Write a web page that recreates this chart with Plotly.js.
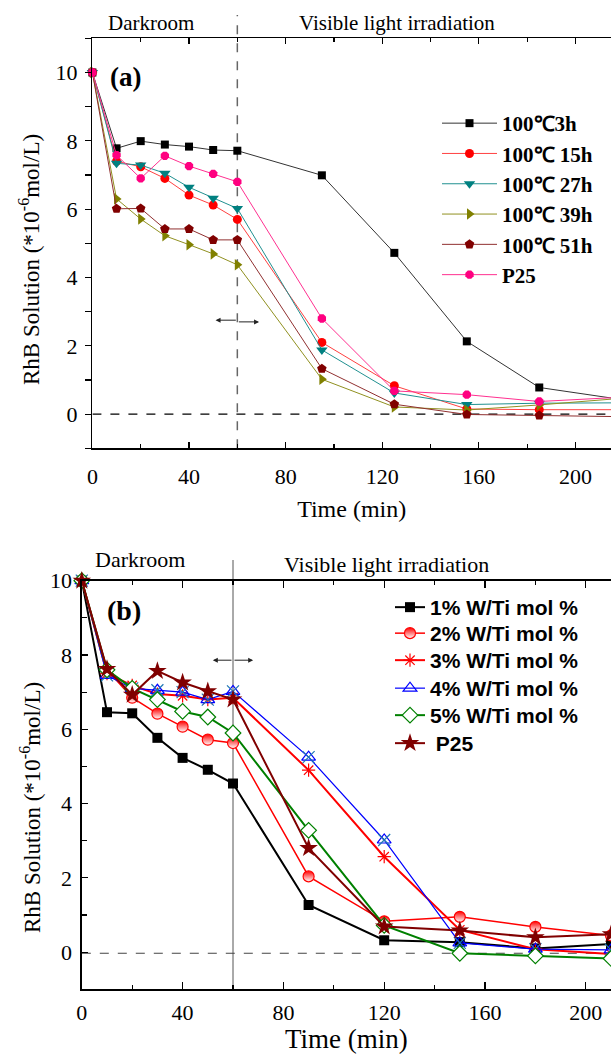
<!DOCTYPE html>
<html>
<head>
<meta charset="utf-8">
<script src="https://cdn.plot.ly/plotly-3.0.1.min.js"></script>
<style>html,body{margin:0;padding:0;background:#fff;}#chart{width:611px;height:1054px;}</style>
</head>
<body>
<div id="chart"></div>
<script>
// ---------- Panel (a) data ----------
const timeA = [0, 10, 20, 30, 40, 50, 60, 95, 125, 155, 185, 215];
const a3h   = [10, 7.78, 7.99, 7.89, 7.83, 7.73, 7.71, 6.99, 4.72, 2.13, 0.78, 0.47];
const a15h  = [10, 7.40, 7.24, 6.90, 6.41, 6.12, 5.70, 2.10, 0.83, 0.15, 0.13, 0.13];
const a27h  = [10, 7.34, 7.29, 7.05, 6.64, 6.32, 6.02, 1.88, 0.62, 0.28, 0.32, 0.33];
const a39h  = [10, 6.30, 5.71, 5.22, 4.96, 4.69, 4.37, 1.02, 0.21, 0.12, 0.27, 0.44];
const a51h  = [10, 6.01, 6.02, 5.42, 5.42, 5.10, 5.10, 1.33, 0.29, -0.01, -0.04, -0.07];
const aP25  = [10, 7.58, 6.90, 7.56, 7.26, 7.03, 6.80, 2.80, 0.68, 0.57, 0.37, 0.48];
const namesA = ["100\u21033h", "100\u2103 15h", "100\u2103 27h", "100\u2103 39h", "100\u2103 51h", "P25"];

// ---------- Panel (b) data ----------
const timeB = [0, 10, 20, 30, 40, 50, 60, 90, 120, 150, 180, 210];
const b1   = [10, 6.46, 6.43, 5.77, 5.23, 4.91, 4.54, 1.27, 0.32, 0.27, 0.10, 0.22];
const b2   = [10, 7.60, 6.85, 6.42, 6.07, 5.72, 5.63, 2.04, 0.83, 0.95, 0.68, 0.45];
const b3   = [10, 7.50, 7.18, 6.95, 6.90, 6.80, 6.85, 4.90, 2.57, 0.60, 0.08, -0.05];
const b4   = [10, 7.45, 7.10, 7.05, 7.00, 6.80, 7.02, 5.25, 3.02, 0.25, 0.08, 0.06];
const b5   = [10, 7.60, 7.10, 6.80, 6.48, 6.33, 5.90, 3.28, 0.72, -0.03, -0.10, -0.17];
const bP25 = [10, 7.62, 6.93, 7.57, 7.26, 7.02, 6.80, 2.80, 0.69, 0.58, 0.40, 0.48];
const namesB = ["1% W/Ti mol %", "2% W/Ti mol %", "3% W/Ti mol %", "4% W/Ti mol %", "5% W/Ti mol %", "\u00a0P25"];

const xTicks = [0, 40, 80, 120, 160, 200];
const H = 1054, W = 611;
const py = p => 1 - p / H;   // pixel row -> paper y
const px = p => p / W;       // pixel col -> paper x

function trA(y, name, color, lineColor, symbol, size) {
  return {x: timeA, y: y, name: name, type: 'scatter', mode: 'lines+markers',
    xaxis: 'x', yaxis: 'y', legend: 'legend', cliponaxis: false,
    line: {color: lineColor, width: 1},
    marker: {symbol: symbol, size: size, color: color, line: {width: 0}}};
}
function trB(y, name, lineColor, lineW, marker, leg) {
  return {x: timeB, y: y, name: name, type: 'scatter', mode: 'lines+markers',
    xaxis: 'x2', yaxis: 'y2', legend: leg, cliponaxis: false,
    line: {color: lineColor, width: lineW}, marker: marker};
}

const traces = [
  trA(a3h,  namesA[0], '#000000', '#333333', 'square', 8),
  trA(a15h, namesA[1], '#ff0000', '#ff4040', 'circle', 9),
  trA(a27h, namesA[2], '#008080', '#209090', 'triangle-down', 10),
  trA(a39h, namesA[3], '#808000', '#909020', 'triangle-right', 10),
  trA(a51h, namesA[4], '#800000', '#903030', 'pentagon', 10),
  trA(aP25, namesA[5], '#ff0080', '#ff3090', 'octagon', 9),

  trB(b1, namesB[0], '#000000', 2, {symbol: 'square', size: 10, color: '#000000'}, 'legend2'),
  trB(b2, namesB[1], '#ff0000', 1.5, {symbol: 'circle', size: 11, color: '#ff0000',
      gradient: {type: 'vertical', color: '#ffffff'}, line: {color: '#ff0000', width: 1.2}}, 'legend3'),
  trB(b3, namesB[2], '#ff0000', 2, {symbol: 'asterisk-open', size: 11,
      line: {color: ['#4040ff','#4040ff','#ff40ff','#4040ff','#4040ff','#4040ff','#4040ff','#8b2020','#30a050','#30a050','#4040ff','#4040ff'], width: 1.2}}, 'legend4'),
  trB(b4, namesB[3], '#0000ff', 1.2, {symbol: 'triangle-up-open', size: 12, line: {color: '#2020ff', width: 1.2}}, 'legend5'),
  {x: timeB, y: b4, type: 'scatter', mode: 'markers', xaxis: 'x2', yaxis: 'y2', showlegend: false,
    cliponaxis: false, hoverinfo: 'skip',
    marker: {symbol: 'x-thin-open', size: 12, line: {color: '#2020ff', width: 1.2}}},
  trB(b5, namesB[4], '#008000', 2, {symbol: 'diamond', size: 12, color: '#ffffff', line: {color: '#008000', width: 1.2}}, 'legend6'),
  trB(bP25, namesB[5], '#800000', 2, {symbol: 'star', size: 14, color: '#800000'}, 'legend7')
];

const serif = 'Liberation Serif';
const tickFont = {family: serif, size: 22, color: '#000'};

const axCommon = {showgrid: false, zeroline: false, showline: true, linecolor: '#000', linewidth: 1.5,
  tickcolor: '#000', tickwidth: 1.2, tickfont: tickFont, automargin: false};

function legB(centerPx) {
  return {x: px(390), xanchor: 'left', y: py(centerPx - 20), yanchor: 'top', bgcolor: 'rgba(0,0,0,0)',
    font: {family: 'Liberation Sans', size: 21, color: '#000', weight: 'bold'}, itemwidth: 30};
}

function txt(text, x, y, size, extra) {
  return Object.assign({text: text, xref: 'paper', yref: 'paper', x: px(x), y: py(y),
    xanchor: 'center', yanchor: 'middle', showarrow: false,
    font: {family: serif, size: size, color: '#000'}}, extra || {});
}
function arrow(xr, yr, xh, yv, xt) {
  return {text: '', xref: xr, yref: yr, axref: xr, ayref: yr, x: xh, y: yv, ax: xt, ay: yv,
    showarrow: true, arrowhead: 2, arrowsize: 1, arrowwidth: 1, arrowcolor: '#222'};
}

const layout = {
  width: W, height: H, paper_bgcolor: '#fff', plot_bgcolor: '#fff',
  margin: {l: 0, r: 0, t: 0, b: 0}, showlegend: true,
  xaxis: Object.assign({}, axCommon, {domain: [px(92.4), 1], anchor: 'y', range: [0, 214.7],
    tickvals: xTicks, ticks: 'inside', ticklen: 6, mirror: 'ticks', ticklabelstandoff: 8,
    minor: {dtick: 20, tick0: 0, ticks: 'inside', ticklen: 4, tickcolor: '#000'},
    title: {text: 'Time (min)', font: {family: serif, size: 24, color: '#000'}, standoff: 12}}),
  yaxis: Object.assign({}, axCommon, {domain: [py(448.3), py(38.3)], anchor: 'x', range: [-1, 11],
    dtick: 2, tick0: 0, ticks: 'outside', ticklen: 6, ticklabelstandoff: 3,
    minor: {dtick: 1, tick0: 0, ticks: 'outside', ticklen: 6, tickcolor: '#000'},
    title: {text: ''}}),
  xaxis2: Object.assign({}, axCommon, {domain: [px(81.8), 1], anchor: 'y2', range: [0, 210],
    tickvals: xTicks, ticks: 'inside', ticklen: 7, mirror: 'ticks', ticklabelstandoff: 3,
    minor: {dtick: 20, tick0: 0, ticks: 'inside', ticklen: 4, tickcolor: '#000'},
    title: {text: 'Time (min)', font: {family: serif, size: 27, color: '#000'}, standoff: 8}}),
  yaxis2: Object.assign({}, axCommon, {domain: [py(989.3), py(580.7)], anchor: 'x2', range: [-1, 10],
    dtick: 2, tick0: 0, ticks: 'inside', ticklen: 6, ticklabelstandoff: 4,
    minor: {dtick: 1, tick0: 0, ticks: 'inside', ticklen: 5, tickcolor: '#000'},
    title: {text: ''}}),
  legend: {x: px(437), xanchor: 'left', y: py(103), yanchor: 'top', bgcolor: 'rgba(0,0,0,0)',
    font: {family: serif, size: 21, color: '#000', weight: 'bold'}, itemwidth: 55},
  legend2: legB(607), legend3: legB(633), legend4: legB(660),
  legend5: legB(688), legend6: legB(715), legend7: legB(743),
  shapes: [
    {type: 'line', xref: 'x', yref: 'paper', x0: 60, x1: 60, y0: py(448.3), y1: py(15), layer: 'below',
      line: {color: '#666', width: 1.5, dash: 'dash'}},
    {type: 'line', xref: 'x', yref: 'y', x0: 0, x1: 214.7, y0: 0, y1: 0, layer: 'below',
      line: {color: '#000', width: 1.2, dash: 'dash'}},
    {type: 'line', xref: 'x2', yref: 'paper', x0: 60, x1: 60, y0: py(989.3), y1: py(560), layer: 'below',
      line: {color: '#555', width: 1}},
    {type: 'line', xref: 'x2', yref: 'y2', x0: 0, x1: 210, y0: -0.03, y1: -0.03, layer: 'below',
      line: {color: '#444', width: 1.2, dash: 'dash'}}
  ],
  annotations: [
    txt('Darkroom', 151, 23, 21),
    txt('Visible light irradiation', 397, 23, 21),
    txt('<b>(a)</b>', 125, 77, 27),
    txt('RhB Solution (*10<sup>-6</sup>mol/L)', 29, 260, 23, {textangle: -90}),
    txt('Darkroom', 140, 559, 22),
    txt('Visible light irradiation', 386, 564, 22),
    txt('<b>(b)</b>', 124, 610, 28),
    txt('RhB Solution (*10<sup>-6</sup>mol/L)', 30, 808, 23, {textangle: -90}),
    arrow('x', 'y', 51, 2.75, 60),
    arrow('x', 'y', 69, 2.70, 60),
    arrow('x2', 'y2', 52, 7.86, 60),
    arrow('x2', 'y2', 68, 7.86, 60)
  ]
};

Plotly.newPlot('chart', traces, layout, {staticPlot: true, displayModeBar: false});
</script>
</body>
</html>
